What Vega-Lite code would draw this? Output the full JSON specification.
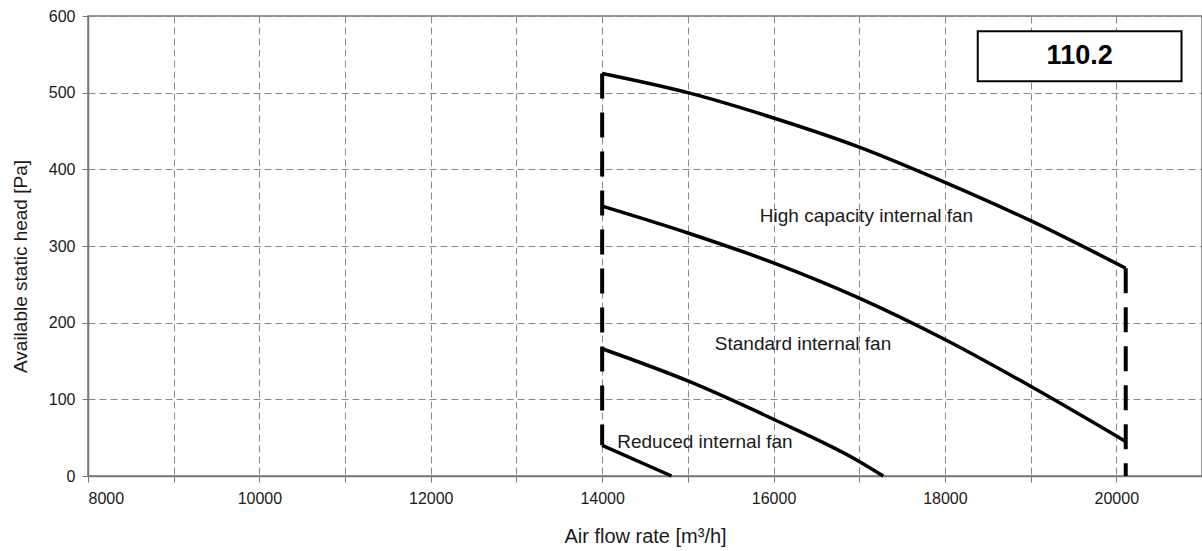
{
  "$schema": "https://vega.github.io/schema/vega-lite/v6.json",
  "width": 1114,
  "height": 460,
  "autosize": {"type": "none"},
  "padding": {"left": 88, "top": 16, "right": 0, "bottom": 75},
  "background": "white",
  "config": {
    "font": "Liberation Sans",
    "view": {"stroke": "#777777", "strokeWidth": 1.5},
    "axis": {
      "domainColor": "#777777",
      "domainWidth": 1.5,
      "tickColor": "#777777",
      "tickSize": 6,
      "gridColor": "#8a8a8a",
      "gridDash": [7, 4],
      "gridWidth": 1,
      "labelFont": "Liberation Sans",
      "labelFontSize": 16,
      "labelColor": "#1a1a1a",
      "titleFont": "Liberation Sans",
      "titleFontSize": 19,
      "titleFontWeight": "normal",
      "titleColor": "#1a1a1a"
    }
  },
  "datasets": {
    "curves": [
      {"series": "high", "flow": 14000, "head": 525},
      {"series": "high", "flow": 15000, "head": 500},
      {"series": "high", "flow": 16000, "head": 467},
      {"series": "high", "flow": 17000, "head": 429},
      {"series": "high", "flow": 18000, "head": 383},
      {"series": "high", "flow": 19000, "head": 333},
      {"series": "high", "flow": 20110, "head": 271},
      {"series": "standard", "flow": 14000, "head": 352},
      {"series": "standard", "flow": 15000, "head": 317},
      {"series": "standard", "flow": 16000, "head": 278},
      {"series": "standard", "flow": 17000, "head": 232},
      {"series": "standard", "flow": 18000, "head": 178},
      {"series": "standard", "flow": 19000, "head": 117},
      {"series": "standard", "flow": 20110, "head": 45},
      {"series": "mid", "flow": 14000, "head": 166},
      {"series": "mid", "flow": 15000, "head": 124},
      {"series": "mid", "flow": 16000, "head": 74},
      {"series": "mid", "flow": 17000, "head": 19},
      {"series": "mid", "flow": 17280, "head": 0},
      {"series": "reduced", "flow": 14000, "head": 40},
      {"series": "reduced", "flow": 14810, "head": 0}
    ],
    "limits": [
      {"flow": 14000, "low": 40, "high": 525},
      {"flow": 20110, "low": 0, "high": 271}
    ],
    "labels": [
      {"label": "High capacity internal fan", "flow": 15840, "head": 339},
      {"label": "Standard internal fan", "flow": 15315, "head": 172},
      {"label": "Reduced internal fan", "flow": 14176, "head": 44}
    ],
    "box": [
      {"name": "110.2", "x1": 18383, "x2": 20761, "y1": 580, "y2": 515, "xm": 19572, "ym": 547.5}
    ]
  },
  "layer": [
    {
      "data": {"name": "curves"},
      "mark": {"type": "line", "color": "black", "strokeWidth": 3.5, "interpolate": "monotone"},
      "encoding": {
        "x": {
          "field": "flow", "type": "quantitative",
          "scale": {"domain": [8000, 21000], "nice": false, "zero": false},
          "axis": {
            "title": "Air flow rate [m³/h]",
            "values": [8000, 9000, 10000, 11000, 12000, 13000, 14000, 15000, 16000, 17000, 18000, 19000, 20000, 21000],
            "format": "d",
            "labelExpr": "datum.value % 2000 == 0 && datum.value < 21000 ? datum.label : ''",
            "labelPadding": 8,
            "titleY": 60,
            "titleBaseline": "middle",
            "titleFontSize": 20
          }
        },
        "y": {
          "field": "head", "type": "quantitative",
          "scale": {"domain": [0, 600], "nice": false},
          "axis": {
            "title": "Available static head [Pa]",
            "values": [0, 100, 200, 300, 400, 500, 600],
            "labelPadding": 7,
            "titleX": -68,
            "titleY": 250,
            "titleBaseline": "middle"
          }
        },
        "detail": {"field": "series"}
      }
    },
    {
      "data": {"name": "limits"},
      "mark": {"type": "rule", "color": "black", "strokeWidth": 4, "strokeDash": [25, 14]},
      "encoding": {
        "x": {"field": "flow", "type": "quantitative"},
        "y": {"field": "high", "type": "quantitative"},
        "y2": {"field": "low"}
      }
    },
    {
      "data": {"name": "labels"},
      "mark": {"type": "text", "align": "left", "baseline": "middle", "fontSize": 19, "color": "#1a1a1a", "font": "Liberation Sans"},
      "encoding": {
        "x": {"field": "flow", "type": "quantitative"},
        "y": {"field": "head", "type": "quantitative"},
        "text": {"field": "label"}
      }
    },
    {
      "data": {"name": "box"},
      "mark": {"type": "rect", "fill": "white", "stroke": "black", "strokeWidth": 2},
      "encoding": {
        "x": {"field": "x1", "type": "quantitative"},
        "x2": {"field": "x2"},
        "y": {"field": "y1", "type": "quantitative"},
        "y2": {"field": "y2"}
      }
    },
    {
      "data": {"name": "box"},
      "mark": {"type": "text", "align": "center", "baseline": "middle", "fontSize": 27, "fontWeight": "bold", "color": "black", "font": "Liberation Sans"},
      "encoding": {
        "x": {"field": "xm", "type": "quantitative"},
        "y": {"field": "ym", "type": "quantitative"},
        "text": {"field": "name"}
      }
    }
  ]
}
